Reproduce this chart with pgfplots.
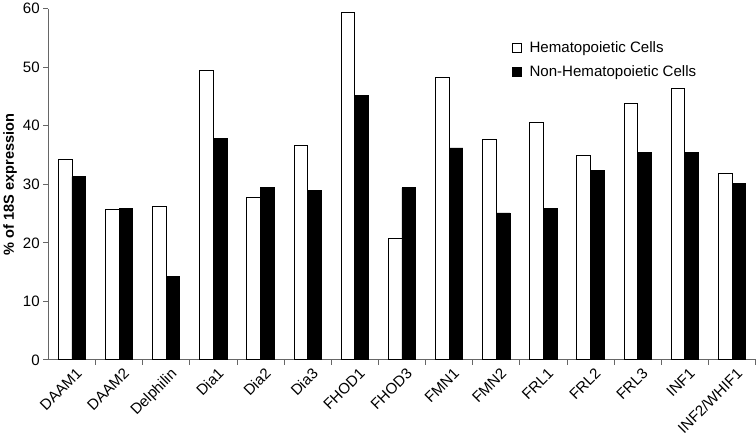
\documentclass[border=0pt]{standalone}
\usepackage{pgfplots}
\pgfplotsset{compat=1.18}
\usepackage{fontspec}
\setmainfont{Liberation Sans}
\begin{document}
\begin{tikzpicture}[x=1pt,y=1pt]
\begin{axis}[
  scale only axis,
  width=704pt, height=349.6pt,
  xmin=-0.5, xmax=14.5,
  ymin=0, ymax=60,
  axis x line=bottom, axis y line=left,
  axis line style={-, draw=gray!80!black, line width=0.8pt},
  ytick={0,10,...,60},
  xtick={0,...,14},
  xticklabels={DAAM1,DAAM2,Delphilin,Dia1,Dia2,Dia3,FHOD1,FHOD3,FMN1,FMN2,FRL1,FRL2,FRL3,INF1,INF2/WHIF1},
  minor xtick={0.5,1.5,...,14.5},
  major x tick style={draw=none},
  minor x tick style={draw=gray!80!black, line width=0.8pt},
  y tick style={draw=gray!80!black, line width=0.8pt},
  tick align=outside,
  major tick length=5pt, minor tick length=5pt,
  x tick label style={rotate=45, anchor=north east, inner sep=1pt, font=\fontsize{15}{17}\selectfont, xshift=2pt, yshift=-3pt},
  y tick label style={font=\fontsize{15}{17}\selectfont},
  /pgf/number format/assume math mode=true,
  ylabel={\textbf{\% of 18S expression}},
  every axis y label/.style={at={(axis description cs:-0.054,0.5)}, rotate=90, anchor=center, font=\fontsize{14.5}{16}\selectfont},
  legend style={at={(0.655,0.912)}, anchor=north west, draw=none, fill=none,
    font=\fontsize{15}{17}\selectfont, row sep=7pt, inner sep=0pt},
  legend cell align=left,
  legend image code/.code={\draw[#1, line width=0.6pt] (0pt,-4.5pt) rectangle (9pt,4.5pt); \path (15pt,0pt);},
  clip=false,
]
\addplot[ybar, bar width=0.29, bar shift=-0.145, fill=white, draw=black, line width=0.8pt] coordinates {
 (0,34.2) (1,25.7) (2,26.2) (3,49.5) (4,27.7) (5,36.7) (6,59.3) (7,20.7)
 (8,48.3) (9,37.6) (10,40.5) (11,35.0) (12,43.8) (13,46.3) (14,31.8)};
\addlegendentry{Hematopoietic Cells}
\addplot[ybar, bar width=0.29, bar shift=0.145, fill=black, draw=black, line width=0.8pt] coordinates {
 (0,31.3) (1,25.9) (2,14.2) (3,37.8) (4,29.4) (5,28.9) (6,45.2) (7,29.4)
 (8,36.2) (9,25.1) (10,25.9) (11,32.4) (12,35.4) (13,35.5) (14,30.2)};
\addlegendentry{Non-Hematopoietic Cells}
\end{axis}
\end{tikzpicture}
\end{document}
